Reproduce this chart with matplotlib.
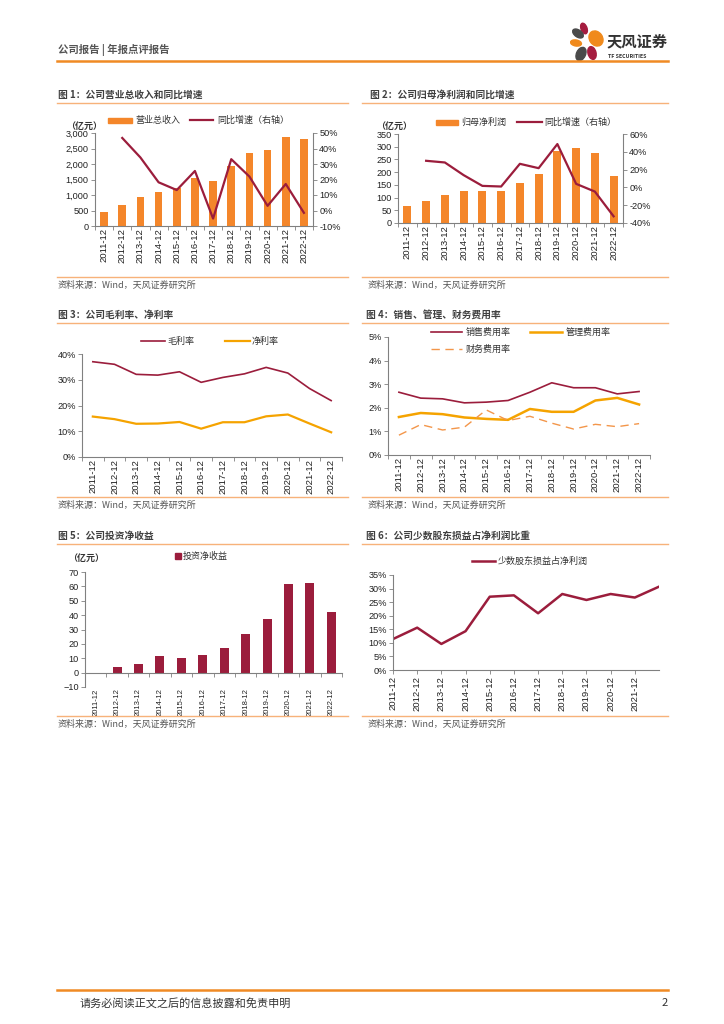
import matplotlib
matplotlib.use("Agg")
import matplotlib.pyplot as plt
import numpy as np
from matplotlib.lines import Line2D
from matplotlib.patches import Rectangle, Ellipse
from matplotlib.ticker import FuncFormatter, FixedLocator

plt.rcParams['font.family'] = ['Liberation Sans', 'Noto Sans CJK SC']
CJK = ['Noto Sans CJK SC', 'Liberation Sans']

# data
years = ["2011-12", "2012-12", "2013-12", "2014-12", "2015-12", "2016-12",
         "2017-12", "2018-12", "2019-12", "2020-12", "2021-12", "2022-12"]

revenue = [460, 680, 920, 1095, 1210, 1560, 1462, 1940, 2370, 2448, 2858, 2815]
revenue_yoy = [np.nan, 46.8, 34.2, 18.2, 13.2, 25.5, -5.2, 33.1, 21.9, 3.0, 17.1, -1.5]

profit = [66, 86, 109, 124, 125, 126, 158, 191, 283, 293, 276, 184]
profit_yoy = [np.nan, 29.9, 28.0, 13.8, 1.7, 1.0, 26.5, 21.6, 48.7, 4.0, -4.7, -32.5]

gross_margin = [37.0, 36.0, 32.1, 31.8, 33.1, 29.0, 30.9, 32.3, 34.8, 32.6, 26.6, 21.9]
net_margin = [15.7, 14.7, 12.9, 13.0, 13.6, 11.0, 13.5, 13.5, 15.8, 16.5, 13.0, 9.6]

sales_rate = [2.66, 2.41, 2.38, 2.21, 2.24, 2.31, 2.66, 3.06, 2.85, 2.85, 2.59, 2.69]
admin_rate = [1.61, 1.78, 1.73, 1.59, 1.53, 1.49, 1.95, 1.83, 1.83, 2.31, 2.42, 2.14]
fin_rate = [0.84, 1.29, 1.06, 1.18, 1.91, 1.46, 1.64, 1.35, 1.10, 1.30, 1.20, 1.33]

invest_income = [-0.3, 4.2, 6.3, 11.4, 10.0, 12.3, 16.9, 26.9, 37.1, 61.5, 62.2, 42.0]

minority_share = [11.4, 15.6, 9.6, 14.3, 27.0, 27.5, 20.9, 28.0, 25.8, 28.0, 26.7, 30.7]

ORANGE = '#F4862A'
RED = '#9B1D3C'
AMBER = '#F5A300'
LORANGE = '#F3964A'
GRID = '#808080'
W, H = 724, 1024

fig = plt.figure(figsize=(W / 100, H / 100), dpi=100)


def fx(x):
    return x / W


def fy(y):
    return 1 - y / H


def add_ax(l, t, r, b):
    return fig.add_axes([fx(l), fy(b), (r - l) / W, (b - t) / H])


def hline(x0, x1, y, color, lw):
    fig.add_artist(Line2D([fx(x0), fx(x1)], [fy(y), fy(y)], color=color, lw=lw))


def ftext(x, y, s, size=6.5, color='#333333', **kw):
    fig.text(fx(x), fy(y), s, fontsize=size, color=color, family=CJK,
             va='center', **kw)


def leg_line(x0, x1, y, color, lw, ls='-'):
    fig.add_artist(Line2D([fx(x0), fx(x1)], [fy(y), fy(y)], color=color, lw=lw, ls=ls))


def leg_bar(x0, x1, y, color, h=5):
    fig.add_artist(Rectangle((fx(x0), fy(y + h / 2)), (x1 - x0) / W, h / H,
                             color=color, transform=fig.transFigure))


def style(ax, boundary_ticks=True):
    for s in ['top', 'right']:
        ax.spines[s].set_visible(False)
    for s in ['left', 'bottom']:
        ax.spines[s].set_color(GRID)
        ax.spines[s].set_linewidth(0.8)
    ax.tick_params(axis='y', labelsize=6.6, length=3, width=0.6, color=GRID,
                   labelcolor='#222222', pad=1.5)
    ax.tick_params(axis='x', labelsize=6.8, labelcolor='#222222', pad=1.5)
    if boundary_ticks:
        ax.set_xticks(np.arange(len(years)))
        ax.set_xticklabels(years, rotation=90)
        ax.tick_params(axis='x', which='major', length=0)
        ax.xaxis.set_minor_locator(FixedLocator(np.arange(-0.5, len(years), 1)))
        ax.tick_params(axis='x', which='minor', length=3, width=0.6, color=GRID)
        ax.set_xlim(-0.5, len(years) - 0.5)


def right_axis(axb):
    for s in ['top', 'left', 'bottom']:
        axb.spines[s].set_visible(False)
    axb.spines['right'].set_color(GRID)
    axb.spines['right'].set_linewidth(0.8)
    axb.yaxis.set_major_formatter(pct)
    axb.tick_params(axis='y', labelsize=6.6, length=3, width=0.6, color=GRID,
                    labelcolor='#222222', pad=1.5)


pct = FuncFormatter(lambda v, p: f"{v:.0f}%")
x = np.arange(len(years))

# header
ftext(58, 50, "公司报告 | 年报点评报告", size=7.5, color='#555555', weight='bold')
hline(57, 668, 61, '#F08A24', 1.8)
logo = fig.add_axes([fx(570), fy(62), 34 / W, 40 / H])
logo.set_xlim(0, 34)
logo.set_ylim(40, 0)
logo.axis('off')
for cx, cy, w, h, a, c in [(14, 6.5, 6, 11, -20, '#A51C3F'), (8, 11.5, 12, 7, 35, '#4A4A4A'),
                           (26, 16.5, 13, 16, -35, '#F08A1C'), (6, 21, 11, 6, 10, '#F08A1C'),
                           (11, 32, 9, 14, 25, '#4A4A4A'), (22, 31, 8, 13, -15, '#A51C3F')]:
    logo.add_patch(Ellipse((cx, cy), w, h, angle=a, color=c))
ftext(607, 41, "天风证券", size=11, color='#333333', weight='bold')
ftext(608, 56, "TF SECURITIES", size=3.8, color='#333333', weight='bold')

# footer
hline(57, 668, 990, '#F08A24', 1.8)
ftext(80, 1003, "请务必阅读正文之后的信息披露和免责申明", size=8, color='#333333')
ftext(668, 1003, "2", size=8, color='#333333', ha='right')

# section titles, rules and sources
LX, RX = 58, 366
for tx, ty, t in [(LX, 95, "图 1：公司营业总收入和同比增速"), (RX + 4, 95, "图 2：公司归母净利润和同比增速"),
                  (LX, 315, "图 3：公司毛利率、净利率"), (RX, 315, "图 4：销售、管理、财务费用率"),
                  (LX, 536, "图 5：公司投资净收益"), (RX, 536, "图 6：公司少数股东损益占净利润比重")]:
    ftext(tx, ty, t, size=7, color='#404040', weight='bold')
for yy in [103, 323, 544]:
    hline(57, 348, yy, '#F7B27A', 1.0)
    hline(362, 668, yy, '#F7B27A', 1.0)
for yy, sy in [(277, 285), (497, 505), (716, 724)]:
    hline(57, 348, yy, '#F7B27A', 1.0)
    hline(362, 668, yy, '#F7B27A', 1.0)
    ftext(LX, sy, "资料来源：Wind，天风证券研究所", size=6.5, color='#555555')
    ftext(RX + 2, sy, "资料来源：Wind，天风证券研究所", size=6.5, color='#555555')

# chart 1
ax1 = add_ax(95, 133, 313, 226)
ax1.bar(x, revenue, width=0.42, color=ORANGE)
ax1.set_ylim(0, 3000)
ax1.set_yticks(np.arange(0, 3001, 500))
ax1.yaxis.set_major_formatter(FuncFormatter(lambda v, p: f"{v:,.0f}"))
style(ax1)
ax1b = ax1.twinx()
ax1b.plot(x, revenue_yoy, color=RED, lw=1.6)
ax1b.set_ylim(-10, 50)
ax1b.set_yticks(np.arange(-10, 51, 10))
right_axis(ax1b)
leg_bar(108, 132, 120, ORANGE)
ftext(135, 120, "营业总收入")
leg_line(190, 213, 120, RED, 1.6)
ftext(217, 120, "同比增速（右轴）")
ftext(66, 126, "（亿元）", weight='bold')

# chart 2
ax2 = add_ax(398, 134, 623, 223)
ax2.bar(x, profit, width=0.42, color=ORANGE)
ax2.set_ylim(0, 350)
ax2.set_yticks(np.arange(0, 351, 50))
style(ax2)
ax2b = ax2.twinx()
ax2b.plot(x, profit_yoy, color=RED, lw=1.6)
ax2b.set_ylim(-40, 60)
ax2b.set_yticks(np.arange(-40, 61, 20))
right_axis(ax2b)
leg_bar(436, 458, 122, ORANGE)
ftext(461, 122, "归母净利润")
leg_line(517, 542, 122, RED, 1.6)
ftext(544, 122, "同比增速（右轴）")
ftext(376, 126, "（亿元）", weight='bold')

# chart 3
ax3 = add_ax(82, 354, 342, 457)
ax3.plot(x, gross_margin, color=RED, lw=1.2)
ax3.plot(x, net_margin, color=AMBER, lw=1.6)
ax3.set_ylim(0, 40)
ax3.set_yticks(np.arange(0, 41, 10))
ax3.yaxis.set_major_formatter(pct)
style(ax3)
leg_line(141, 165, 341, RED, 1.2)
ftext(167, 341, "毛利率")
leg_line(225, 250, 341, AMBER, 1.6)
ftext(252, 341, "净利率")

# chart 4
ax4 = add_ax(388, 337, 650, 455)
ax4.plot(x, sales_rate, color=RED, lw=1.2)
ax4.plot(x, admin_rate, color=AMBER, lw=1.8)
ax4.plot(x, fin_rate, color=LORANGE, lw=1.0, ls=(0, (6, 4)))
ax4.set_ylim(0, 5)
ax4.set_yticks(np.arange(0, 6, 1))
ax4.yaxis.set_major_formatter(pct)
style(ax4)
leg_line(431, 462, 332, RED, 1.2)
ftext(466, 332, "销售费用率")
leg_line(530, 562, 332, AMBER, 1.8)
ftext(566, 332, "管理费用率")
leg_line(431, 462, 349, LORANGE, 1.0, ls=(0, (6, 4)))
ftext(466, 349, "财务费用率")

# chart 5 (x axis line sits at zero, labels below the -10 line)
ax5 = add_ax(85, 572, 342, 687)
ax5.spines['bottom'].set_position(('data', 0))
ax5.bar(x, invest_income, width=0.42, color=RED)
ax5.set_ylim(-10, 70)
ax5.set_yticks(np.arange(-10, 71, 10))
style(ax5)
ax5.tick_params(axis='x', which='major', pad=11.5, labelsize=5.5)
fig.add_artist(Line2D([fx(178)], [fy(556)], marker='s', ms=4, color=RED, lw=0))
ftext(183, 556, "投资净收益")
ftext(68, 558, "（亿元）", weight='bold')

# chart 6
ax6 = add_ax(393, 575, 659, 670)
ax6.plot(x, minority_share, color=RED, lw=1.8)
ax6.set_ylim(0, 35)
ax6.set_yticks(np.arange(0, 36, 5))
ax6.yaxis.set_major_formatter(pct)
style(ax6, boundary_ticks=False)
ax6.set_xlim(0, len(years) - 1)
ax6.set_xticks(x[:-1])
ax6.set_xticklabels(years[:-1], rotation=90)
ax6.tick_params(axis='x', length=3, width=0.6, color=GRID)
leg_line(472, 495, 561, RED, 1.8)
ftext(498, 561, "少数股东损益占净利润")

fig.savefig("out.png", dpi=100)
